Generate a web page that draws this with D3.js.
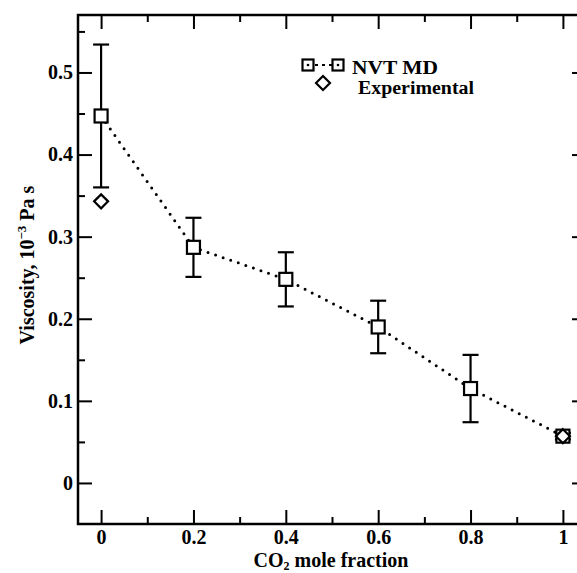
<!DOCTYPE html>
<html>
<head>
<meta charset="utf-8">
<script src="https://cdn.jsdelivr.net/npm/d3@7"></script>
<style>
  html, body { margin: 0; padding: 0; background: #fff; }
  svg { display: block; }
  text { font-family: "Liberation Serif", "Times New Roman", serif; font-weight: bold; fill: #000; }
</style>
</head>
<body>
<svg id="chart" width="577" height="573"></svg>
<script>
// CO2 mole fraction and simulated (NVT MD) viscosity with error bars
const moleFraction = [0, 0.2, 0.4, 0.6, 0.8, 1.0];
const mdViscosity  = [0.447, 0.287, 0.248, 0.190, 0.115, 0.057];
const mdError      = [0.087, 0.036, 0.033, 0.032, 0.041, 0.004];

// Experimental viscosity
const expFraction  = [0, 1.0];
const expViscosity = [0.343, 0.057];

// Tick values
const xMajorTicks = [0, 0.2, 0.4, 0.6, 0.8, 1];
const xMinorTicks = [0.1, 0.3, 0.5, 0.7, 0.9];
const yMajorTicks = [0, 0.1, 0.2, 0.3, 0.4, 0.5];
const yMinorTicks = [0.05, 0.15, 0.25, 0.35, 0.45, 0.55];

const legendLabels = ["NVT MD", "Experimental"];

const svg = d3.select("#chart");
const plotLeft = 78, plotRight = 586, plotTop = 15, plotBottom = 524;

const x = d3.scaleLinear().domain([-0.05, 1.05]).range([plotLeft, plotRight]);
const y = d3.scaleLinear().domain([-0.05, 0.57]).range([plotBottom, plotTop]);

const fmt = d => String(d);

// inward ticks on all four sides
function styleAxis(g) {
  g.attr("font-size", null).attr("font-family", null);
  g.select(".domain").remove();
  g.selectAll(".tick line").attr("stroke", "#000").attr("stroke-width", 2);
  g.selectAll("text").style("font-size", "20px");
}

// bottom
svg.append("g").attr("transform", `translate(0,${plotBottom})`)
  .call(d3.axisBottom(x).tickValues(xMajorTicks).tickSize(-14).tickPadding(6).tickFormat(fmt))
  .call(styleAxis);
svg.append("g").attr("transform", `translate(0,${plotBottom})`)
  .call(d3.axisBottom(x).tickValues(xMinorTicks).tickSize(-7).tickFormat(""))
  .call(styleAxis);
// top
svg.append("g").attr("transform", `translate(0,${plotTop})`)
  .call(d3.axisTop(x).tickValues(xMajorTicks).tickSize(-14).tickFormat(""))
  .call(styleAxis);
svg.append("g").attr("transform", `translate(0,${plotTop})`)
  .call(d3.axisTop(x).tickValues(xMinorTicks).tickSize(-7).tickFormat(""))
  .call(styleAxis);
// left
svg.append("g").attr("transform", `translate(${plotLeft},0)`)
  .call(d3.axisLeft(y).tickValues(yMajorTicks).tickSize(-14).tickPadding(5).tickFormat(fmt))
  .call(styleAxis);
svg.append("g").attr("transform", `translate(${plotLeft},0)`)
  .call(d3.axisLeft(y).tickValues(yMinorTicks).tickSize(-7).tickFormat(""))
  .call(styleAxis);
// right
svg.append("g").attr("transform", `translate(${plotRight},0)`)
  .call(d3.axisRight(y).tickValues(yMajorTicks).tickSize(-14).tickFormat(""))
  .call(styleAxis);
svg.append("g").attr("transform", `translate(${plotRight},0)`)
  .call(d3.axisRight(y).tickValues(yMinorTicks).tickSize(-7).tickFormat(""))
  .call(styleAxis);

// frame
svg.append("rect")
  .attr("x", plotLeft).attr("y", plotTop)
  .attr("width", plotRight - plotLeft).attr("height", plotBottom - plotTop)
  .attr("fill", "none").attr("stroke", "#000").attr("stroke-width", 2.5);

// axis titles
const xt = svg.append("text")
  .attr("x", 331).attr("y", 566.5)
  .attr("text-anchor", "middle").style("font-size", "20px");
xt.append("tspan").text("CO");
xt.append("tspan").attr("dy", 3).style("font-size", "12px").text("2");
xt.append("tspan").attr("dy", -3).text(" mole fraction");

const yt = svg.append("text")
  .attr("transform", "translate(34,265) rotate(-90)")
  .attr("text-anchor", "middle").style("font-size", "20px");
yt.append("tspan").text("Viscosity, 10");
yt.append("tspan").attr("dy", -8).style("font-size", "13px").text("\u22123");
yt.append("tspan").attr("dy", 8).text(" Pa s");

const pts = moleFraction.map((f, i) => ({ f, v: mdViscosity[i], e: mdError[i] }));

// dotted connecting line
svg.append("path")
  .datum(pts)
  .attr("d", d3.line().x(d => x(d.f)).y(d => y(d.v)))
  .attr("fill", "none").attr("stroke", "#000")
  .attr("stroke-width", 3).attr("stroke-linecap", "round")
  .attr("stroke-dasharray", "0,8");

// error bars
const eb = svg.append("g").attr("stroke", "#000").attr("stroke-width", 2.2);
pts.forEach(d => {
  eb.append("line").attr("x1", x(d.f)).attr("x2", x(d.f))
    .attr("y1", y(d.v + d.e)).attr("y2", y(d.v - d.e));
  [d.v + d.e, d.v - d.e].forEach(v => {
    eb.append("line").attr("x1", x(d.f) - 8).attr("x2", x(d.f) + 8)
      .attr("y1", y(v)).attr("y2", y(v));
  });
});

// MD square markers
svg.append("g").selectAll("rect").data(pts).join("rect")
  .attr("x", d => x(d.f) - 6.5).attr("y", d => y(d.v) - 6.5)
  .attr("width", 13).attr("height", 13)
  .attr("fill", "#fff").attr("stroke", "#000").attr("stroke-width", 2.2);

// experimental diamonds
const diamond = s => `M0,${-s}L${s},0L0,${s}L${-s},0Z`;
svg.append("g").selectAll("path").data(expFraction.map((f, i) => ({ f, v: expViscosity[i] }))).join("path")
  .attr("transform", d => `translate(${x(d.f)},${y(d.v)})`)
  .attr("d", diamond(7))
  .attr("fill", "none").attr("stroke", "#000").attr("stroke-width", 2.2);

// legend
const lg = svg.append("g");
lg.append("line").attr("x1", 308).attr("x2", 338).attr("y1", 65).attr("y2", 65)
  .attr("stroke", "#000").attr("stroke-width", 2.2)
  .attr("stroke-dasharray", "3,4");
[308, 338].forEach(cx => {
  lg.append("rect").attr("x", cx - 5.5).attr("y", 59.5).attr("width", 11).attr("height", 11)
    .attr("fill", "#fff").attr("stroke", "#000").attr("stroke-width", 2.2);
  lg.append("circle").attr("cx", cx).attr("cy", 65).attr("r", 1.3).attr("fill", "#000");
});
lg.append("path").attr("transform", "translate(323,83)").attr("d", diamond(7))
  .attr("fill", "none").attr("stroke", "#000").attr("stroke-width", 2.2);
lg.append("text").attr("x", 352).attr("y", 74).style("font-size", "18px")
  .attr("textLength", 86).attr("lengthAdjust", "spacingAndGlyphs").text(legendLabels[0]);
lg.append("text").attr("x", 358).attr("y", 94).style("font-size", "18px")
  .attr("textLength", 116).attr("lengthAdjust", "spacingAndGlyphs").text(legendLabels[1]);
</script>
</body>
</html>
